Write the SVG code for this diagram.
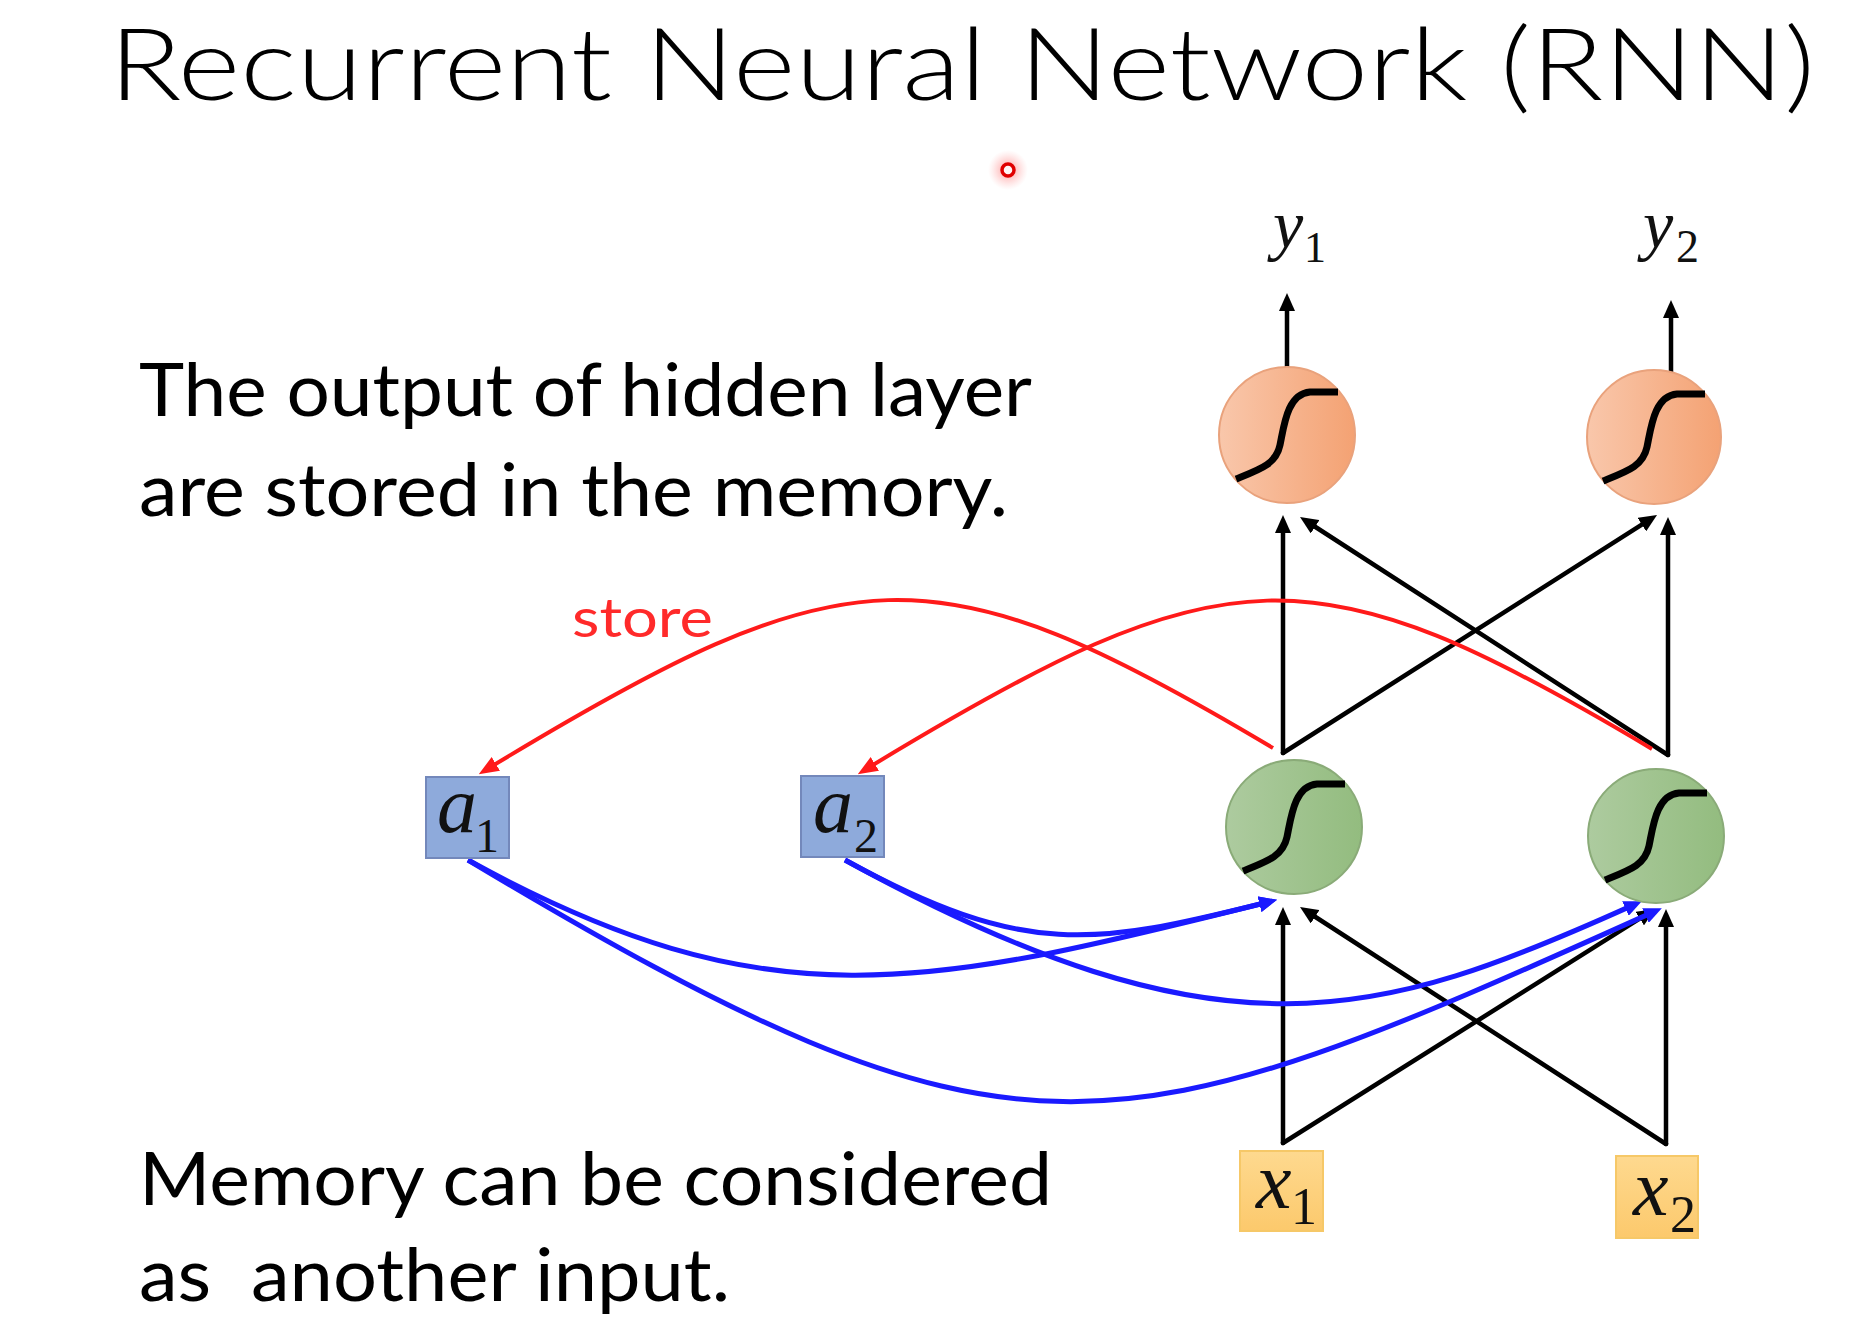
<svg xmlns="http://www.w3.org/2000/svg" xmlns:xlink="http://www.w3.org/1999/xlink" width="1860" height="1322" viewBox="0 0 1860 1322">
  <style>
    .sans { font-family: Lato, "Liberation Sans", "Noto Sans", sans-serif; fill: #000; }
    .title { font-weight: 300; font-size: 100px; }
    .body { font-size: 74px; white-space: pre; }
    .store { font-size: 54px; fill: #ff2a2a; }
    .mi { font-family: "Liberation Serif", "DejaVu Serif", serif; font-style: italic; fill: #111; }
    .sub { font-family: "Liberation Serif", "DejaVu Serif", serif; fill: #111; }
    .blk { fill: none; stroke: #000; stroke-width: 4.5; stroke-linecap: round; }
    .red { fill: none; stroke: #ff1a1a; stroke-width: 4; }
    .blue { fill: none; stroke: #1a1aff; stroke-width: 5; }
    .sig { fill: none; stroke: #000; stroke-width: 7; stroke-linejoin: round; }
    .abox { fill: #8eaadb; stroke: #7388bb; stroke-width: 2; }
    .xbox { fill: url(#gx); stroke: #f6c868; stroke-width: 2; }
    .onode { fill: url(#go); stroke: #e9a27c; stroke-width: 2; }
    .gnode { fill: url(#gg); stroke: #8aab78; stroke-width: 2; }
  </style>
  <defs>
    <linearGradient id="go" x1="0" y1="0" x2="1" y2="0">
      <stop offset="0" stop-color="#f9c7ab"/>
      <stop offset="1" stop-color="#f4a273"/>
    </linearGradient>
    <linearGradient id="gg" x1="0" y1="0" x2="1" y2="0">
      <stop offset="0" stop-color="#adcb9f"/>
      <stop offset="1" stop-color="#93bc7f"/>
    </linearGradient>
    <linearGradient id="gx" x1="0" y1="0" x2="0" y2="1">
      <stop offset="0" stop-color="#fed98f"/>
      <stop offset="1" stop-color="#fcc96c"/>
    </linearGradient>
    <radialGradient id="halo">
      <stop offset="0" stop-color="#ff5050" stop-opacity="0.6"/>
      <stop offset="0.6" stop-color="#ff8080" stop-opacity="0.25"/>
      <stop offset="1" stop-color="#ffa0a0" stop-opacity="0"/>
    </radialGradient>
    <path id="sigmoid" class="sig" d="M-51,44 C-26,34 -11,29 -7,10 C-3,-9 0,-41 23,-43 L51,-43"/>
    <marker id="ab" viewBox="0 0 18 16" refX="6" refY="8" markerWidth="18" markerHeight="16" markerUnits="userSpaceOnUse" orient="auto">
      <path d="M0,0 L18,8 L0,16 z" fill="#000"/>
    </marker>
    <marker id="ar" viewBox="0 0 20 16" refX="8" refY="8" markerWidth="20" markerHeight="16" markerUnits="userSpaceOnUse" orient="auto">
      <path d="M0,0 L20,8 L0,16 z" fill="#ff1a1a"/>
    </marker>
    <marker id="abl" viewBox="0 0 18 16" refX="6" refY="8" markerWidth="18" markerHeight="16" markerUnits="userSpaceOnUse" orient="auto">
      <path d="M0,0 L18,8 L0,16 z" fill="#1a1aff"/>
    </marker>
  </defs>

  <rect width="1860" height="1322" fill="#fff"/>

  <text class="sans title" x="109" y="100" textLength="1706" lengthAdjust="spacingAndGlyphs">Recurrent Neural Network (RNN)</text>

  <g id="pointer">
    <circle cx="1008" cy="170" r="20" fill="url(#halo)"/>
    <circle cx="1008" cy="170" r="6" fill="#fff5f5" stroke="#e00000" stroke-width="3.5"/>
  </g>

  <text class="sans body" x="139" y="416" textLength="893" lengthAdjust="spacingAndGlyphs">The output of hidden layer</text>
  <text class="sans body" x="139" y="516" textLength="869" lengthAdjust="spacingAndGlyphs">are stored in the memory.</text>
  <text class="sans body" x="139" y="1205" textLength="913" lengthAdjust="spacingAndGlyphs">Memory can be considered</text>
  <text class="sans body" x="139" y="1301" textLength="591" lengthAdjust="spacingAndGlyphs">as  another input.</text>

  <g id="connectors">
    <!-- black -->
    <line class="blk" x1="1287" y1="368" x2="1287" y2="305" marker-end="url(#ab)"/>
    <line class="blk" x1="1671" y1="372" x2="1671" y2="312" marker-end="url(#ab)"/>
    <line class="blk" x1="1283" y1="753" x2="1283" y2="527" marker-end="url(#ab)"/>
    <line class="blk" x1="1283" y1="753" x2="1646.9" y2="521.4" marker-end="url(#ab)"/>
    <line class="blk" x1="1668" y1="755" x2="1668" y2="529" marker-end="url(#ab)"/>
    <line class="blk" x1="1668" y1="755" x2="1310.1" y2="523.5" marker-end="url(#ab)"/>
    <line class="blk" x1="1283" y1="1143" x2="1283" y2="919" marker-end="url(#ab)"/>
    <line class="blk" x1="1283" y1="1143" x2="1644.8" y2="915.4" marker-end="url(#ab)"/>
    <line class="blk" x1="1666" y1="1144" x2="1666" y2="921" marker-end="url(#ab)"/>
    <line class="blk" x1="1666" y1="1144" x2="1310.1" y2="913.5" marker-end="url(#ab)"/>
    <!-- red store -->
    <path class="red" d="M1273,748 C933,545 848,550 489,768" marker-end="url(#ar)"/>
    <path class="red" d="M1652,749 C1312,546 1227,550 868,768" marker-end="url(#ar)"/>
    <!-- blue memory inputs -->
    <path class="blue" d="M468,860 C768,1025 925,988 1265.4,902.7" marker-end="url(#abl)"/>
    <path class="blue" d="M468,860 C1018,1190 1110,1156.5 1650.9,913.1" marker-end="url(#abl)"/>
    <path class="blue" d="M845,860 C1025,959 1095,945 1265.4,902.7" marker-end="url(#abl)"/>
    <path class="blue" d="M845,860 C1225,1069 1380,1019 1630.9,906.1" marker-end="url(#abl)"/>
  </g>

  <text class="sans store" x="572" y="637" textLength="141" lengthAdjust="spacingAndGlyphs">store</text>

  <g id="o1">
    <circle class="onode" cx="1287" cy="435" r="68"/>
    <use href="#sigmoid" xlink:href="#sigmoid" x="1287" y="435"/>
  </g>
  <g id="o2">
    <circle class="onode" cx="1654" cy="437" r="67"/>
    <use href="#sigmoid" xlink:href="#sigmoid" x="1654" y="437"/>
  </g>
  <g id="h1">
    <ellipse class="gnode" cx="1294" cy="827" rx="68" ry="67"/>
    <use href="#sigmoid" xlink:href="#sigmoid" x="1294" y="827"/>
  </g>
  <g id="h2">
    <ellipse class="gnode" cx="1656" cy="836" rx="68" ry="67"/>
    <use href="#sigmoid" xlink:href="#sigmoid" x="1656" y="836"/>
  </g>

  <g id="y1">
    <text class="mi" x="1273" y="248" font-size="68">y</text>
    <text class="sub" x="1304" y="262" font-size="44">1</text>
  </g>
  <g id="y2">
    <text class="mi" x="1643" y="248" font-size="68">y</text>
    <text class="sub" x="1676" y="262" font-size="46">2</text>
  </g>

  <g id="a1">
    <rect class="abox" x="426" y="777" width="83" height="81"/>
    <text class="mi" x="437" y="832" font-size="80">a</text>
    <text class="sub" x="475" y="852" font-size="48">1</text>
  </g>
  <g id="a2">
    <rect class="abox" x="801" y="776" width="83" height="81"/>
    <text class="mi" x="813" y="832" font-size="80">a</text>
    <text class="sub" x="854" y="852" font-size="48">2</text>
  </g>

  <g id="x1">
    <rect class="xbox" x="1240" y="1151" width="83" height="80"/>
    <text class="mi" x="1256" y="1208" font-size="80">x</text>
    <text class="sub" x="1291" y="1224" font-size="52">1</text>
  </g>
  <g id="x2">
    <rect class="xbox" x="1616" y="1156" width="82" height="82"/>
    <text class="mi" x="1633" y="1215" font-size="80">x</text>
    <text class="sub" x="1670" y="1232" font-size="52">2</text>
  </g>
</svg>
